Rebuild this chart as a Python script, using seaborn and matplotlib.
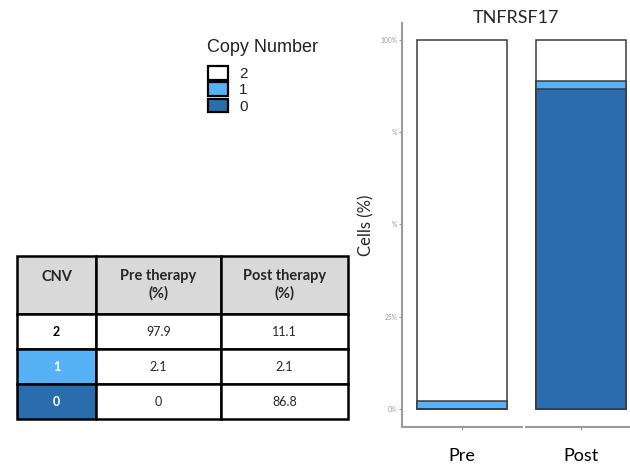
import matplotlib
matplotlib.use("Agg")
import matplotlib.pyplot as plt
from matplotlib.patches import Patch
import seaborn as sns
import pandas as pd

# Copy-number composition of TNFRSF17 before and after therapy (% of cells)
stages = ["Pre", "Post"]
copy_numbers = ["2", "1", "0"]
pre_pct = [97.9, 2.1, 0.0]
post_pct = [11.1, 2.1, 86.8]
cn_colors = {"2": "#FFFFFF", "1": "#56B1F7", "0": "#2A6DAE"}

y_ticks = [0, 25, 50, 75, 100]
y_tick_labels = ["0%", "25%", "%", "%", "100%"]

table_header = ["CNV\n", "Pre therapy\n(%)", "Post therapy\n(%)"]

sns.set_theme(style="white")
plt.rcParams["font.family"] = ["Lato", "DejaVu Sans"]

fig = plt.figure(figsize=(6.3, 4.65), dpi=100)

# ---- stacked bar chart ----
ax = fig.add_axes([402 / 630, 1 - 427 / 465, 228 / 630, 404 / 465])

long = pd.DataFrame({
    "stage": [s for s in stages for _ in copy_numbers],
    "cn": copy_numbers * len(stages),
    "pct": pre_pct + post_pct,
})
# stack order from the bottom: 0, then 1, then 2
stack_order = ["0", "1", "2"]
long["rank"] = long["cn"].map({c: i for i, c in enumerate(stack_order)})
long = long.sort_values(["stage", "rank"])
long["top"] = long.groupby("stage")["pct"].cumsum()

for cn in reversed(stack_order):
    layer = long[long["cn"] == cn]
    sns.barplot(data=layer, x="stage", y="top", order=stages,
                color=cn_colors[cn], saturation=1, errorbar=None,
                edgecolor="#3a3a3a", linewidth=1.1, width=0.753, ax=ax)

ax.set_xlim(-0.502, 1.406)
ax.set_ylim(-4.88, 104.6)
ax.set_yticks(y_ticks)
ax.set_yticklabels(y_tick_labels)
ax.tick_params(axis="y", labelsize=4.8, labelcolor="#9a9a9a", length=2,
               width=0.8, color="#9a9a9a", left=True, pad=1.5)
ax.tick_params(axis="x", labelsize=13, labelcolor="black", length=2,
               width=0.8, color="#9a9a9a", bottom=True, pad=13)
ax.set_xlabel("")
ax.set_ylabel("Cells (%)", fontsize=12, labelpad=4)
ax.set_title("TNFRSF17", fontsize=13, pad=0)

for side in ["top", "right", "bottom"]:
    ax.spines[side].set_visible(False)
ax.spines["left"].set_color("#9a9a9a")
ax.spines["left"].set_linewidth(1.5)
# bottom axis line, split between the two groups
xt = ax.get_xaxis_transform()
ax.plot([-0.502, 0.51], [0, 0], transform=xt, color="#9a9a9a", lw=1.5,
        clip_on=False, solid_capstyle="butt")
ax.plot([0.527, 1.406], [0, 0], transform=xt, color="#9a9a9a", lw=1.5,
        clip_on=False, solid_capstyle="butt")

# ---- legend ----
legend_font = ["Liberation Sans", "DejaVu Sans"]
fig.text(207 / 630, 1 - 47 / 465, "Copy Number", fontsize=13,
         family=legend_font, color="#222222", va="center", ha="left")
handles = [Patch(facecolor=cn_colors[c], edgecolor="black", linewidth=1.6)
           for c in copy_numbers]
leg = fig.legend(handles, copy_numbers,
                 loc="upper left", bbox_to_anchor=(208 / 630, 1 - 66 / 465),
                 frameon=False, fontsize=11,
                 handlelength=1.3, handleheight=1.0, labelspacing=0.08,
                 handletextpad=0.75, borderaxespad=0, borderpad=0)
for t in leg.get_texts():
    t.set_fontfamily(legend_font)
    t.set_color("#222222")

# ---- summary table ----
tax = fig.add_axes([17 / 630, 1 - 419 / 465, 331 / 630, 163 / 465])
tax.axis("off")
cell_text = [[cn, f"{p:g}", f"{q:g}"]
             for cn, p, q in zip(copy_numbers, pre_pct, post_pct)]
tbl = tax.table(cellText=cell_text, colLabels=table_header,
                colWidths=[79 / 331, 125 / 331, 127 / 331],
                cellLoc="center", bbox=[0, 0, 1, 1])
tbl.auto_set_font_size(False)
row_h = {0: 58 / 163, 1: 35 / 163, 2: 35 / 163, 3: 35 / 163}
for (r, c), cell in tbl.get_celld().items():
    cell.set_edgecolor("black")
    cell.set_linewidth(1.8)
    cell.set_height(row_h[r])
    txt = cell.get_text()
    txt.set_fontfamily(["Lato", "DejaVu Sans"])
    if r == 0:
        cell.set_facecolor("#D9D9D9")
        txt.set_fontweight("bold")
        txt.set_fontsize(10.5)
        txt.set_linespacing(1.25)
    else:
        txt.set_fontsize(9)
        if c == 0:
            cn = copy_numbers[r - 1]
            cell.set_facecolor(cn_colors[cn])
            txt.set_fontweight("bold")
            txt.set_color("black" if cn == "2" else "white")

fig.savefig("out.png", dpi=100)
